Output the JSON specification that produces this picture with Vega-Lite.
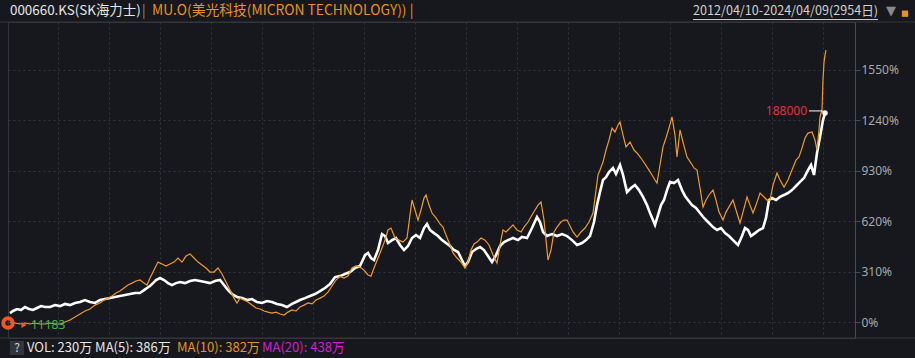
{
  "$schema": "https://vega.github.io/schema/vega-lite/v6.json",
  "width": 847,
  "height": 316,
  "autosize": {"type": "none"},
  "padding": {"left": 8, "top": 22, "right": 60, "bottom": 20},
  "background": "#17181d",
  "config": {"view": {"stroke": "#34363d", "strokeWidth": 1}, "font": "Noto Sans CJK SC"},
  "datasets": {
    "sk": [
      {"i":2,"v":55},{"i":5,"v":68},{"i":9,"v":80},{"i":13,"v":74},{"i":17,"v":92},{"i":21,"v":80},{"i":25,"v":74},{"i":29,"v":86},{"i":33,"v":98},{"i":37,"v":92},{"i":42,"v":92},{"i":47,"v":104},{"i":52,"v":98},{"i":57,"v":111},{"i":62,"v":104},{"i":67,"v":117},{"i":72,"v":123},{"i":77,"v":135},{"i":82,"v":123},{"i":87,"v":117},{"i":92,"v":135},{"i":97,"v":141},{"i":102,"v":147},{"i":107,"v":154},{"i":112,"v":160},{"i":117,"v":166},{"i":122,"v":172},{"i":127,"v":178},{"i":132,"v":178},{"i":136,"v":196},{"i":139,"v":209},{"i":142,"v":221},{"i":145,"v":239},{"i":148,"v":258},{"i":152,"v":270},{"i":156,"v":258},{"i":160,"v":239},{"i":164,"v":227},{"i":168,"v":239},{"i":172,"v":246},{"i":177,"v":239},{"i":182,"v":252},{"i":187,"v":258},{"i":192,"v":252},{"i":197,"v":246},{"i":202,"v":239},{"i":207,"v":252},{"i":212,"v":258},{"i":216,"v":227},{"i":220,"v":196},{"i":224,"v":172},{"i":229,"v":154},{"i":234,"v":147},{"i":239,"v":135},{"i":244,"v":141},{"i":249,"v":123},{"i":254,"v":117},{"i":259,"v":129},{"i":264,"v":123},{"i":269,"v":111},{"i":274,"v":104},{"i":279,"v":92},{"i":284,"v":111},{"i":288,"v":123},{"i":292,"v":135},{"i":297,"v":147},{"i":302,"v":160},{"i":307,"v":172},{"i":312,"v":190},{"i":317,"v":209},{"i":322,"v":233},{"i":327,"v":276},{"i":332,"v":282},{"i":337,"v":295},{"i":342,"v":307},{"i":347,"v":332},{"i":352,"v":344},{"i":357,"v":411},{"i":360,"v":424},{"i":363,"v":393},{"i":366,"v":381},{"i":370,"v":442},{"i":374,"v":540},{"i":377,"v":528},{"i":380,"v":485},{"i":384,"v":503},{"i":388,"v":516},{"i":392,"v":473},{"i":396,"v":442},{"i":400,"v":467},{"i":404,"v":516},{"i":408,"v":534},{"i":412,"v":516},{"i":416,"v":577},{"i":419,"v":602},{"i":422,"v":565},{"i":426,"v":546},{"i":430,"v":528},{"i":434,"v":503},{"i":438,"v":485},{"i":442,"v":467},{"i":446,"v":442},{"i":450,"v":430},{"i":454,"v":381},{"i":457,"v":344},{"i":460,"v":368},{"i":464,"v":430},{"i":468,"v":448},{"i":472,"v":461},{"i":476,"v":442},{"i":480,"v":405},{"i":484,"v":368},{"i":488,"v":411},{"i":492,"v":467},{"i":496,"v":491},{"i":500,"v":503},{"i":505,"v":516},{"i":510,"v":503},{"i":514,"v":522},{"i":519,"v":516},{"i":524,"v":577},{"i":529,"v":645},{"i":532,"v":614},{"i":535,"v":553},{"i":539,"v":528},{"i":544,"v":540},{"i":549,"v":528},{"i":554,"v":540},{"i":559,"v":528},{"i":564,"v":503},{"i":569,"v":473},{"i":574,"v":485},{"i":578,"v":503},{"i":582,"v":528},{"i":586,"v":614},{"i":589,"v":718},{"i":592,"v":798},{"i":595,"v":872},{"i":598,"v":890},{"i":601,"v":921},{"i":605,"v":946},{"i":608,"v":909},{"i":612,"v":964},{"i":615,"v":903},{"i":619,"v":798},{"i":623,"v":823},{"i":627,"v":841},{"i":631,"v":810},{"i":635,"v":768},{"i":639,"v":718},{"i":642,"v":669},{"i":645,"v":626},{"i":647,"v":596},{"i":650,"v":657},{"i":653,"v":718},{"i":656,"v":749},{"i":659,"v":810},{"i":662,"v":860},{"i":666,"v":853},{"i":670,"v":872},{"i":674,"v":810},{"i":677,"v":774},{"i":680,"v":749},{"i":684,"v":718},{"i":688,"v":700},{"i":692,"v":669},{"i":696,"v":639},{"i":700,"v":614},{"i":705,"v":583},{"i":709,"v":565},{"i":713,"v":577},{"i":717,"v":546},{"i":721,"v":528},{"i":725,"v":503},{"i":730,"v":473},{"i":734,"v":528},{"i":737,"v":577},{"i":740,"v":565},{"i":743,"v":528},{"i":747,"v":546},{"i":751,"v":565},{"i":755,"v":577},{"i":758,"v":639},{"i":761,"v":749},{"i":764,"v":761},{"i":768,"v":749},{"i":772,"v":768},{"i":776,"v":780},{"i":780,"v":792},{"i":784,"v":810},{"i":788,"v":835},{"i":792,"v":860},{"i":796,"v":884},{"i":800,"v":933},{"i":803,"v":964},{"i":806,"v":903},{"i":809,"v":1038},{"i":812,"v":1136},{"i":815,"v":1240},{"i":817,"v":1283}
    ],
    "mu": [
      {"i":2,"v":0},{"i":7,"v":-6},{"i":12,"v":-12},{"i":17,"v":-6},{"i":22,"v":-12},{"i":27,"v":-6},{"i":32,"v":-12},{"i":37,"v":-12},{"i":42,"v":-6},{"i":47,"v":-12},{"i":52,"v":-12},{"i":57,"v":0},{"i":62,"v":12},{"i":67,"v":31},{"i":72,"v":49},{"i":77,"v":68},{"i":82,"v":80},{"i":87,"v":104},{"i":92,"v":117},{"i":96,"v":135},{"i":100,"v":147},{"i":104,"v":160},{"i":108,"v":178},{"i":112,"v":190},{"i":116,"v":209},{"i":120,"v":227},{"i":124,"v":239},{"i":128,"v":252},{"i":132,"v":258},{"i":136,"v":239},{"i":139,"v":227},{"i":142,"v":270},{"i":146,"v":319},{"i":150,"v":368},{"i":154,"v":356},{"i":158,"v":344},{"i":162,"v":356},{"i":166,"v":368},{"i":170,"v":393},{"i":174,"v":368},{"i":178,"v":405},{"i":182,"v":418},{"i":186,"v":393},{"i":190,"v":368},{"i":194,"v":350},{"i":198,"v":332},{"i":202,"v":307},{"i":206,"v":307},{"i":210,"v":332},{"i":214,"v":295},{"i":218,"v":246},{"i":222,"v":196},{"i":226,"v":147},{"i":229,"v":117},{"i":232,"v":147},{"i":236,"v":135},{"i":240,"v":123},{"i":244,"v":104},{"i":248,"v":86},{"i":252,"v":80},{"i":256,"v":68},{"i":260,"v":61},{"i":264,"v":55},{"i":268,"v":61},{"i":272,"v":49},{"i":276,"v":43},{"i":280,"v":61},{"i":284,"v":74},{"i":288,"v":68},{"i":292,"v":92},{"i":296,"v":104},{"i":300,"v":117},{"i":304,"v":111},{"i":308,"v":135},{"i":312,"v":147},{"i":316,"v":160},{"i":320,"v":184},{"i":324,"v":221},{"i":328,"v":258},{"i":332,"v":282},{"i":336,"v":270},{"i":340,"v":282},{"i":344,"v":332},{"i":348,"v":344},{"i":352,"v":338},{"i":356,"v":319},{"i":360,"v":289},{"i":363,"v":282},{"i":366,"v":332},{"i":370,"v":393},{"i":374,"v":454},{"i":377,"v":503},{"i":380,"v":565},{"i":383,"v":577},{"i":387,"v":516},{"i":391,"v":503},{"i":395,"v":491},{"i":399,"v":516},{"i":402,"v":657},{"i":404,"v":749},{"i":407,"v":688},{"i":410,"v":626},{"i":413,"v":688},{"i":416,"v":761},{"i":418,"v":780},{"i":421,"v":718},{"i":424,"v":669},{"i":428,"v":639},{"i":432,"v":602},{"i":435,"v":583},{"i":438,"v":534},{"i":442,"v":473},{"i":445,"v":424},{"i":449,"v":393},{"i":453,"v":368},{"i":457,"v":332},{"i":460,"v":368},{"i":463,"v":442},{"i":466,"v":479},{"i":469,"v":491},{"i":473,"v":516},{"i":477,"v":503},{"i":481,"v":473},{"i":485,"v":411},{"i":489,"v":362},{"i":492,"v":473},{"i":495,"v":565},{"i":498,"v":553},{"i":502,"v":577},{"i":505,"v":596},{"i":509,"v":565},{"i":513,"v":553},{"i":516,"v":583},{"i":520,"v":614},{"i":524,"v":657},{"i":527,"v":688},{"i":530,"v":718},{"i":533,"v":737},{"i":536,"v":626},{"i":540,"v":381},{"i":543,"v":442},{"i":546,"v":553},{"i":549,"v":583},{"i":553,"v":614},{"i":556,"v":626},{"i":559,"v":626},{"i":562,"v":589},{"i":565,"v":553},{"i":569,"v":522},{"i":573,"v":553},{"i":577,"v":577},{"i":581,"v":614},{"i":585,"v":669},{"i":588,"v":810},{"i":590,"v":903},{"i":592,"v":933},{"i":595,"v":982},{"i":598,"v":1056},{"i":601,"v":1117},{"i":604,"v":1191},{"i":607,"v":1167},{"i":610,"v":1210},{"i":612,"v":1228},{"i":615,"v":1148},{"i":618,"v":1075},{"i":622,"v":1105},{"i":626,"v":1056},{"i":629,"v":1038},{"i":633,"v":1007},{"i":637,"v":970},{"i":641,"v":933},{"i":644,"v":903},{"i":647,"v":872},{"i":649,"v":853},{"i":652,"v":964},{"i":655,"v":1075},{"i":658,"v":1130},{"i":661,"v":1191},{"i":664,"v":1259},{"i":667,"v":1148},{"i":669,"v":1013},{"i":672,"v":1179},{"i":675,"v":1105},{"i":679,"v":1013},{"i":683,"v":976},{"i":686,"v":946},{"i":689,"v":933},{"i":692,"v":823},{"i":695,"v":706},{"i":698,"v":749},{"i":701,"v":780},{"i":705,"v":810},{"i":708,"v":749},{"i":711,"v":675},{"i":715,"v":626},{"i":718,"v":675},{"i":722,"v":718},{"i":725,"v":749},{"i":728,"v":688},{"i":732,"v":608},{"i":735,"v":675},{"i":739,"v":768},{"i":742,"v":718},{"i":745,"v":669},{"i":748,"v":718},{"i":752,"v":792},{"i":755,"v":774},{"i":759,"v":749},{"i":762,"v":749},{"i":765,"v":841},{"i":769,"v":915},{"i":772,"v":872},{"i":776,"v":829},{"i":780,"v":872},{"i":784,"v":933},{"i":788,"v":995},{"i":791,"v":1013},{"i":794,"v":1068},{"i":797,"v":1130},{"i":800,"v":1160},{"i":804,"v":1167},{"i":807,"v":1117},{"i":809,"v":1056},{"i":811,"v":1179},{"i":812,"v":1259},{"i":814,"v":1302},{"i":815,"v":1486},{"i":816,"v":1596},{"i":817,"v":1639},{"i":818,"v":1670}
    ]
  },
  "encoding": {
    "x": {"field": "i", "type": "quantitative", "scale": {"domain": [0, 847], "nice": false, "zero": false},
      "axis": {"orient": "bottom", "title": null, "labels": false, "ticks": false, "domain": false, "grid": true,
        "values": [50,101,152,203,254,305,356,407,458,509,560,611,662,713,764,815],
        "gridDash": [2, 3], "gridColor": "#34363e", "gridWidth": 1}},
    "y": {"field": "v", "type": "quantitative", "scale": {"domain": [-98, 1842], "nice": false, "zero": false},
      "axis": {"orient": "right", "title": null, "values": [0, 310, 620, 930, 1240, 1550],
        "labelExpr": "datum.value + '%'", "grid": true, "gridDash": [2, 3], "gridColor": "#34363e",
        "domainColor": "#4a4c54", "tickColor": "#4a4c54", "tickSize": 5, "labelColor": "#a8a8a8",
        "labelFontSize": 12, "labelPadding": 1, "labelFont": "Noto Sans", "labelBaseline": "middle"}}
  },
  "layer": [
    {"data": {"name": "sk"}, "mark": {"type": "line", "color": "#ffffff", "strokeWidth": 2.6, "strokeJoin": "miter"}},
    {"data": {"name": "mu"}, "mark": {"type": "line", "color": "#f29a24", "strokeWidth": 1.2}},
    {"data": {"values": [{"i": 0, "v": -6}]}, "mark": {"type": "point", "shape": "circle", "filled": false, "stroke": "#f0561e", "strokeWidth": 4, "size": 90, "opacity": 1}},
    {"data": {"values": [{"i": 16, "v": -18}]}, "mark": {"type": "point", "shape": "triangle-right", "filled": true, "color": "#f0561e", "size": 35, "opacity": 1}},
    {"data": {"values": [{"i": 23, "v": -18, "t": "11183"}]}, "mark": {"type": "text", "align": "left", "baseline": "middle", "color": "#3fb54a", "fontSize": 12, "font": "Noto Sans"}, "encoding": {"text": {"field": "t"}}},
    {"data": {"values": [{"i": 799, "v": 1296, "t": "188000"}]}, "mark": {"type": "text", "align": "right", "baseline": "middle", "color": "#e0323f", "fontSize": 12, "font": "Noto Sans"}, "encoding": {"text": {"field": "t"}}},
    {"data": {"values": [{"i": 801, "i2": 815, "v": 1296}]}, "mark": {"type": "rule", "color": "#ffffff", "strokeWidth": 1}, "encoding": {"x2": {"field": "i2"}}},
    {"data": {"values": [{"i": 817, "v": 1283}]}, "mark": {"type": "point", "shape": "circle", "filled": true, "color": "#ffffff", "size": 30, "opacity": 1}},
    {"data": {"values": [{"i": 2, "v": 1910, "t": "000660.KS(SK海力士)"}]}, "mark": {"type": "text", "align": "left", "baseline": "middle", "color": "#e6e6e6", "fontSize": 13.4}, "encoding": {"text": {"field": "t"}}},
    {"data": {"values": [{"i": 134, "v": 1910, "t": "|"}]}, "mark": {"type": "text", "align": "left", "baseline": "middle", "color": "#8c8c8c", "fontSize": 13.4}, "encoding": {"text": {"field": "t"}}},
    {"data": {"values": [{"i": 144, "v": 1910, "t": "MU.O(美光科技(MICRON TECHNOLOGY)) |"}]}, "mark": {"type": "text", "align": "left", "baseline": "middle", "color": "#e8921c", "fontSize": 13.8}, "encoding": {"text": {"field": "t"}}},
    {"data": {"values": [{"i": 685, "v": 1910, "t": "2012/04/10-2024/04/09(2954日)"}]}, "mark": {"type": "text", "align": "left", "baseline": "middle", "color": "#d0d0d0", "fontSize": 12.6}, "encoding": {"text": {"field": "t"}}},
    {"data": {"values": [{"i": 685, "i2": 870, "v": 1857}]}, "mark": {"type": "rule", "color": "#d0d0d0", "strokeWidth": 1}, "encoding": {"x2": {"field": "i2"}}},
    {"data": {"values": [{"i": 883, "v": 1912, "t": "▼"}]}, "mark": {"type": "text", "align": "center", "baseline": "middle", "color": "#8a8a8a", "fontSize": 13, "font": "DejaVu Sans"}, "encoding": {"text": {"field": "t"}}},
    {"data": {"values": [{"i": 897, "v": 1893}]}, "mark": {"type": "point", "shape": "square", "filled": true, "color": "#e8921c", "size": 40, "opacity": 1}},
    {"data": {"values": [{"i": -8, "i2": 907, "v": 1842}, {"i": -8, "i2": 907, "v": -98}]}, "mark": {"type": "rule", "color": "#34363d", "strokeWidth": 1}, "encoding": {"x2": {"field": "i2"}}},
    {"data": {"values": [{"i": 9, "v": -159}]}, "mark": {"type": "point", "shape": "square", "filled": true, "color": "#33353c", "size": 200, "opacity": 1}},
    {"data": {"values": [{"i": 9, "v": -159, "t": "?"}]}, "mark": {"type": "text", "align": "center", "baseline": "middle", "color": "#d0d0d0", "fontSize": 12}, "encoding": {"text": {"field": "t"}}},
    {"data": {"values": [{"i": 19, "v": -159, "t": "VOL: 230万  MA(5): 386万"}]}, "mark": {"type": "text", "align": "left", "baseline": "middle", "color": "#e6e6e6", "fontSize": 13}, "encoding": {"text": {"field": "t"}}},
    {"data": {"values": [{"i": 169, "v": -159, "t": "MA(10): 382万"}]}, "mark": {"type": "text", "align": "left", "baseline": "middle", "color": "#e8921c", "fontSize": 13}, "encoding": {"text": {"field": "t"}}},
    {"data": {"values": [{"i": 254, "v": -159, "t": "MA(20): 438万"}]}, "mark": {"type": "text", "align": "left", "baseline": "middle", "color": "#d21ed2", "fontSize": 13}, "encoding": {"text": {"field": "t"}}}
  ]
}
